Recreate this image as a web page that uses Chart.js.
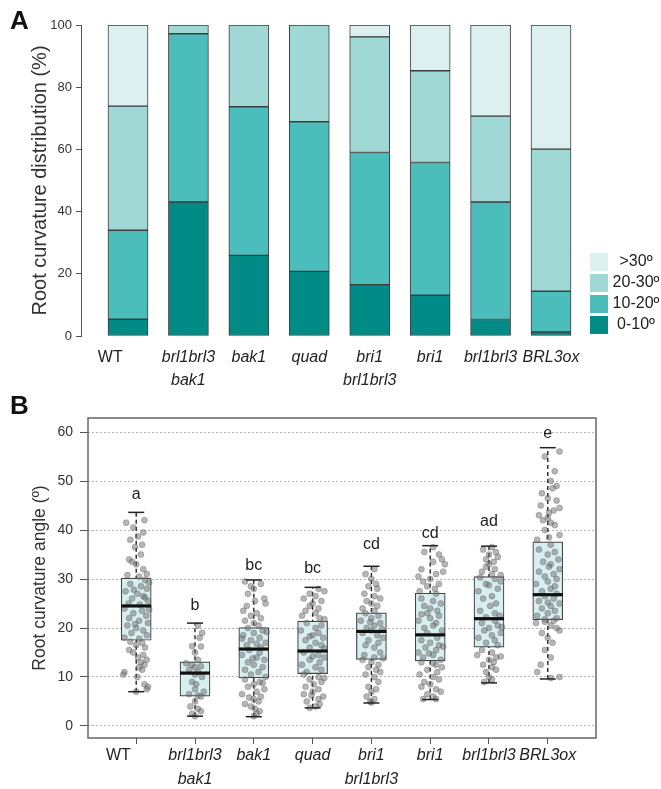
<!DOCTYPE html>
<html>
<head>
<meta charset="utf-8">
<script src="https://cdn.jsdelivr.net/npm/chart.js@4"></script>
<style>
  body { margin: 0; background: #fff; width: 661px; height: 789px; position: relative; overflow: hidden; }
  canvas { position: absolute; left: 0; }
  .tag { position: absolute; left: 10px; font: bold 26px/26px 'Liberation Sans', Arial, sans-serif; color: #111; z-index: 2; }
</style>
</head>
<body>
<canvas id="chartDist" width="661" height="395" style="top:0"></canvas>
<canvas id="chartAngle" width="661" height="394" style="top:395px"></canvas>
<div class="tag" style="top:7px">A</div>
<div class="tag" style="top:392px">B</div>
<script>
// genotypes (multi-line tick labels); WT sits a little left of its bar in the original
const genotypes = [['WT        '], ['brl1brl3', 'bak1'], ['bak1'], ['quad'], ['bri1', 'brl1brl3'], ['bri1'], ['brl1brl3'], ['BRL3ox']];

// --- A: root curvature distribution (%) ---
const bins = ['0-10º', '10-20º', '20-30º', '>30º'];
const pct0to10  = [5.4, 43.1, 25.9, 20.8, 16.5, 13.1, 5.3, 1.3];
const pct10to20 = [28.6, 54.1, 47.8, 48.1, 42.5, 42.7, 37.8, 13.1];
const pct20to30 = [39.9, 2.8, 26.3, 31.1, 37.2, 29.5, 27.6, 45.7];
const pctOver30 = [26.1, 0, 0, 0, 3.8, 14.7, 29.3, 39.9];
const binColors = ['#008b87', '#4bbdbb', '#9fd8d5', '#dcf0ef'];

// --- B: root curvature angle (º), box stats ---
const whiskLow  = [7.0, 2.0, 1.9, 3.7, 4.7, 5.4, 8.8, 9.6];
const q1        = [17.5, 6.1, 9.8, 10.7, 13.6, 13.3, 16.1, 21.7];
const median    = [24.5, 10.8, 15.7, 15.3, 19.3, 18.6, 21.9, 26.8];
const q3        = [30.2, 13.1, 20.1, 21.4, 23.1, 27.1, 30.5, 37.6];
const whiskHigh = [43.6, 21.0, 29.8, 28.3, 32.6, 36.8, 36.7, 56.8];
const sigLetters = ['a', 'b', 'bc', 'bc', 'cd', 'cd', 'ad', 'e'];
const letterY    = [47.3, 24.5, 32.7, 32.1, 37.0, 39.2, 41.8, 59.7];

// individual roots: [jitter, angle]
const ptsWT = [[-0.17,41.5],[0.14,42],[-0.05,40.5],[0.12,39.5],[0.03,38.7],[-0.1,38],[0.1,37],[-0.02,36.5],[0.08,35],[-0.12,34],[-0.07,33.5],[0,33],[0.12,32],[0.18,31],[-0.15,30.8],[0.05,30.5],
  [0.15,29.8],[-0.1,29],[0.22,29.3],[0.08,28.5],[0.18,28],[-0.04,27.8],[-0.18,27.5],[0.02,27],[0.12,26.5],[0.15,26.2],[-0.07,26],[0.2,25.5],[-0.13,25],[0.06,24.8],
  [-0.2,24],[0.22,23.8],[0.1,23.5],[-0.05,23],[0.17,22.5],[-0.12,22],[0.05,21.5],[0.2,21],[-0.02,20.8],[-0.15,20.5],[0,20],[0.12,19.5],[-0.08,19],[0.18,18.5],[-0.2,18],[0.05,17.8],
  [-0.1,17.2],[0.1,17],[0,16.5],[0.15,16],[-0.12,15.5],[-0.05,15],[0.12,14.5],[0.03,14],[0.18,13.5],[0.08,13],[0.14,12.5],[0.05,12],[0.1,11.5],[-0.2,11],[-0.22,10.5],[0.02,10],[0.14,8.5],[0.2,8],[0.18,7.5],[0,7]];
const ptsBrl1brl3bak1 = [[0.05,20.5],[0.12,19],[0.08,18],[-0.05,16.3],[0.1,16.2],[0,15],[0.05,13.5],[-0.15,12.8],[-0.05,12.5],[0.1,12.2],[0,12],[-0.1,11.5],[0.05,11],[0,10.5],[0.12,10],
  [-0.05,9],[0.02,8.5],[0,7.5],[0.15,7],[-0.1,6.5],[0.05,6.2],[0.1,6],[0,5],[-0.08,4],[0.05,3.5],[0.1,3],[-0.05,2.5],[0,2]];
const ptsBak1 = [[-0.15,29.5],[0.12,29],[-0.05,28.5],[0,28],[-0.1,27],[0.18,26],[0.02,25.5],[0.2,25],[-0.12,24.5],[-0.18,23.5],[0.05,23],[-0.05,22.5],[0.12,22],[-0.15,21.5],[0,21],[0.08,20.5],
  [-0.1,20],[0.15,19.5],[0.22,19.2],[0,19],[-0.18,18.5],[0.1,18],[-0.2,17.8],[-0.05,17.5],[0.2,17],[0.05,16.8],[-0.12,16.5],[0.12,16],
  [-0.08,15.5],[0.1,15],[-0.2,14.5],[0.05,14],[-0.02,13.8],[0.18,13.5],[-0.1,13],[0,12.5],[0.15,12],[-0.15,11.5],[0.08,11],[-0.05,10.5],[0.2,10],
  [-0.15,9.5],[0.1,9],[0.15,8.8],[0,8.5],[-0.1,8],[0.18,7.5],[0.05,7],[-0.2,6.5],[0.12,6],[-0.08,5.8],[0,5.5],[0.08,5],[-0.15,4.5],[-0.05,4],[0.02,3.5],[0.1,3],[0.05,2.5],[0,2]];
const ptsQuad = [[0.1,28],[0.2,27.5],[-0.05,27],[0.05,26.5],[-0.15,26],[0.15,25.5],[0,25],[-0.05,24.5],[0.1,24],[-0.12,23.5],[0.05,23],[-0.18,22.5],[0.12,22],[0.2,21.8],
  [-0.1,21],[0.15,20.5],[0.05,20],[-0.2,19.5],[0.1,19],[0,18.5],[-0.05,18.3],[0.18,18],[-0.12,17.5],[0.05,17],[0.15,16.5],[-0.05,16],[0.2,15.8],
  [-0.15,15],[0.1,14.5],[0,14.2],[0.2,14],[-0.05,13.5],[0.12,13],[-0.18,12.5],[0.05,12],[0.15,11.5],[-0.1,11],
  [-0.15,10.5],[0.1,10],[0.2,9.8],[-0.05,9.5],[0.15,9],[0.02,8.5],[-0.12,8],[0.1,7.5],[0,7],[-0.15,6.5],[-0.02,6.2],[0.18,6],[0.1,5.5],[-0.1,5],[0.12,4.5],[0.05,4],[-0.05,3.7]];
const ptsBri1brl1brl3 = [[0.05,32],[-0.1,31],[0,30],[0.08,29],[-0.05,28.5],[0.1,28],[-0.12,27],[0.05,26.5],[0.15,26],[-0.08,25.5],[0,25],[0.1,24.5],[-0.15,24],[0.05,23.5],
  [-0.1,23],[0.12,22.5],[0,22],[-0.18,21.5],[-0.02,21.2],[0.15,21],[0.05,20.5],[-0.08,20],[0.18,19.8],[0,19.5],
  [-0.15,19],[0.1,18.5],[0.2,18],[-0.05,17.5],[0.12,17],[-0.1,16.5],[0.05,16],[0.15,15],[-0.12,14.5],[0.05,14],[0.2,13.8],
  [-0.15,13.5],[0,13],[0.12,12.5],[-0.05,12],[0.08,11.5],[0.15,11],[-0.1,10.5],[0.05,10],[0.12,9],[-0.05,8],[0.08,7.5],[0,7],[-0.08,6],[0.05,5.5],[-0.02,5],[0,4.8]];
const ptsBri1 = [[0.05,36.5],[-0.1,35.5],[0.15,35],[0.2,34],[0.05,33.5],[0.25,33],[-0.15,32],[0.22,31.5],[0.1,31],[-0.2,30.5],[0,30],[-0.12,29.5],[0.15,29],[-0.05,28.5],[0.08,28],[-0.18,27.5],
  [0.1,27],[-0.15,26],[0.05,25.5],[0.18,25],[-0.1,24.5],[0,24],[0.12,23.5],[-0.05,23],[-0.15,22.8],[0.15,22.5],[0,22],[-0.2,21.5],[0.1,21],[0.05,20.5],[-0.1,20],[0.2,19.5],[-0.05,19],
  [0.12,18],[-0.15,17.5],[0,17],[0.15,16.5],[0.22,16.2],[-0.08,16],[0.1,15.5],[-0.2,15],[-0.02,14.8],[0.05,14.5],[-0.12,14],[0.18,13.5],
  [-0.15,13],[0.05,12.8],[0.1,12.5],[0.2,12],[-0.05,11.5],[0.12,11],[-0.18,10.5],[0.05,10],[0.15,9.5],[-0.1,9],[0,8.5],[-0.15,8],[0.1,7.5],[0.18,7],[-0.05,6.5],[0.05,6],[0.1,5.5],[-0.12,5.5]];
const ptsBrl1brl3 = [[0.05,36.5],[-0.1,36],[0.12,35.5],[0,35],[0.15,34.5],[-0.05,34],[0.08,33.5],[0,33],[-0.05,32.5],[0.1,32],[-0.12,31.5],[0.05,31],[0.2,30.8],
  [-0.15,30.3],[0.1,30],[0.2,29.5],[-0.05,29],[0,28.7],[0.15,28],[-0.18,27.5],[0.05,26.5],[-0.1,26],[0.12,25],[0.02,24.5],[-0.15,23.5],[0.1,23],[0.18,22.5],[-0.05,22.2],
  [0.1,21.5],[-0.12,21],[0.15,20.5],[0.22,20.2],[0,20],[-0.08,19.5],[0.2,19],[0.05,18.5],[-0.18,18],[0.1,17.5],[-0.05,17],[0.15,16.5],
  [-0.12,15.5],[0.05,15],[-0.2,14.5],[0.2,14.2],[0.12,14],[0,13.5],[0.08,13],[-0.1,12.5],[0.05,12],[0.12,11.5],[-0.05,11],[0,10],[0.05,9.5],[-0.08,9]];
const ptsBRL3ox = [[0.2,56],[-0.05,55],[0.12,52],[0.05,50],[0.15,49],[0.08,48.5],[-0.1,47.5],[0,46.5],[0.15,46],[-0.12,45],[0.2,44.5],[0.1,44],[0.02,43.5],[-0.15,43],[0,42.5],[-0.08,42],[0.05,41.5],[0.12,41],[-0.05,40],[0.2,39],[0.02,38.5],[-0.18,38],
  [0.05,37],[-0.15,36],[0.12,35.5],[0,35],[0.18,34],[-0.08,33.5],[0.05,33],[0.02,32.5],[0.2,32],[-0.15,31.5],[0.1,31],[-0.05,30.5],[0.15,30],[0,29.5],[-0.2,29],[0.12,28.5],[0.05,28],[-0.1,27.5],[0.15,27],
  [-0.05,26.5],[0.1,26],[-0.15,25.5],[0,25.2],[0.2,25],[0.05,24.5],[-0.1,24],[0.12,23.5],[0,23],[-0.18,22.5],[0.15,22],[-0.05,21.8],
  [0.1,21.5],[-0.05,21.3],[-0.2,21],[0.05,20.5],[0.15,20],[0.2,19.5],[-0.1,19],[0,18],[0.08,17],[-0.05,15.5],[0.05,14],[-0.12,12.5],[-0.18,11],[0.2,10],[0.05,9.8]];
const rootPoints = [ptsWT, ptsBrl1brl3bak1, ptsBak1, ptsQuad, ptsBri1brl1brl3, ptsBri1, ptsBrl1brl3, ptsBRL3ox];

const FONT = "'Liberation Sans', Arial, sans-serif";
Chart.defaults.font.family = FONT;
Chart.defaults.color = '#222';
Chart.defaults.animation = false;

const tickIdx = s => { s.ticks = genotypes.map((_, i) => ({ value: i + 1 })); };
const genoFont = (size, lh) => ctx => ({ size: size, lineHeight: lh, style: ctx.index === 0 ? 'normal' : 'italic' });

// legend for panel A, top bin first
const binLegend = {
  id: 'binLegend',
  afterDraw(chart) {
    const ctx = chart.ctx;
    ctx.save();
    ctx.font = '16px ' + FONT;
    ctx.textAlign = 'center';
    ctx.textBaseline = 'middle';
    chart.data.datasets.slice().reverse().forEach((ds, i) => {
      const y = 253 + i * 21;
      ctx.fillStyle = ds.backgroundColor;
      ctx.fillRect(590, y, 18, 18);
      ctx.fillStyle = '#222';
      ctx.fillText(ds.label, 636, y + 9);
    });
    ctx.restore();
  }
};

const binSeries = [pct0to10, pct10to20, pct20to30, pctOver30];
new Chart(document.getElementById('chartDist'), {
  type: 'bar',
  data: {
    datasets: binSeries.map((vals, b) => ({
      label: bins[b],
      data: vals.map((v, i) => ({ x: i + 1, y: v })),
      backgroundColor: binColors[b],
      borderColor: '#3d3d3d',
      borderWidth: 1,
      borderSkipped: false,
      barThickness: 40
    }))
  },
  options: {
    responsive: false,
    events: [],
    layout: { padding: { left: 0, top: 25, right: 76, bottom: 0 } },
    plugins: { legend: { display: false }, tooltip: { enabled: false } },
    scales: {
      x: {
        type: 'linear', stacked: true, offset: false, min: 0.2223, max: 8.5626,
        afterBuildTicks: tickIdx,
        afterFit: s => { s.height = 59; },
        grid: { display: false, drawTicks: false, offset: false },
        border: { display: false },
        ticks: { autoSkip: false, maxRotation: 0, padding: 10, color: '#222',
          font: genoFont(16, 1.45), callback: v => genotypes[v - 1] }
      },
      y: {
        stacked: true, min: 0, max: 100,
        afterFit: s => { s.width = 81; },
        grid: { drawOnChartArea: false, tickLength: 5, color: '#555' },
        border: { color: '#555' },
        ticks: { stepSize: 20, padding: 4, color: '#333', font: { size: 13 } },
        title: { display: true, text: 'Root curvature distribution (%)', color: '#333',
          font: { size: 20 }, padding: { top: 28, bottom: 0 } }
      }
    }
  },
  plugins: [binLegend]
});

// frame around panel B plot region + significance letters
const frameAndLetters = {
  id: 'frameAndLetters',
  afterDatasetsDraw(chart) {
    const { ctx, chartArea: a, scales: { x, y } } = chart;
    ctx.save();
    ctx.strokeStyle = '#666';
    ctx.lineWidth = 1.5;
    ctx.strokeRect(a.left, a.top, a.right - a.left, a.bottom - a.top);
    ctx.font = '16px ' + FONT;
    ctx.fillStyle = '#222';
    ctx.textAlign = 'center';
    ctx.textBaseline = 'middle';
    sigLetters.forEach((t, i) => ctx.fillText(t, x.getPixelForValue(i + 1), y.getPixelForValue(letterY[i])));
    ctx.restore();
  }
};

const whiskerData = [];
whiskLow.forEach((lo, i) => {
  whiskerData.push({ x: i + 1, y: lo }, { x: i + 1, y: whiskHigh[i] }, { x: i + 1, y: null });
});
const capData = whiskLow.map((v, i) => ({ x: i + 1, y: v })).concat(whiskHigh.map((v, i) => ({ x: i + 1, y: v })));
const pointData = [];
rootPoints.forEach((grp, i) => grp.forEach(p => pointData.push({ x: i + 1 + p[0], y: p[1] })));

new Chart(document.getElementById('chartAngle'), {
  type: 'scatter',
  data: {
    datasets: [
      { type: 'line', data: whiskerData, borderColor: '#222', borderWidth: 1.4, borderDash: [4, 3],
        pointRadius: 0, spanGaps: false, order: 5 },
      { type: 'bar', data: q1.map((v, i) => ({ x: i + 1, y: [v, q3[i]] })), backgroundColor: '#d7eff0',
        borderColor: '#444', borderWidth: 1.2, borderSkipped: false, barThickness: 30, order: 4 },
      { data: pointData, pointRadius: 3, backgroundColor: 'rgba(110,110,110,0.5)',
        borderColor: 'rgba(80,80,80,0.5)', borderWidth: 0.6, order: 3 },
      { data: capData, pointStyle: 'line', pointRadius: 8, borderColor: '#222', borderWidth: 1.5, order: 2 },
      { data: median.map((v, i) => ({ x: i + 1, y: v })), pointStyle: 'line', pointRadius: 15,
        borderColor: '#111', borderWidth: 3.2, order: 1 }
    ]
  },
  options: {
    responsive: false,
    events: [],
    layout: { padding: { left: 0, top: 23, right: 65, bottom: 0 } },
    plugins: { legend: { display: false }, tooltip: { enabled: false } },
    scales: {
      x: {
        type: 'linear', offset: false, min: 0.18, max: 8.82,
        afterBuildTicks: tickIdx,
        afterFit: s => { s.height = 51; },
        grid: { drawOnChartArea: false, offset: false, tickLength: 6, color: '#555' },
        border: { display: false },
        ticks: { autoSkip: false, maxRotation: 0, padding: 0, color: '#222',
          font: genoFont(16, 1.5), callback: v => genotypes[v - 1] }
      },
      y: {
        min: -2.45, max: 62.86,
        afterBuildTicks: s => { s.ticks = [0, 10, 20, 30, 40, 50, 60].map(v => ({ value: v })); },
        afterFit: s => { s.width = 88; },
        grid: { color: '#b5b5b5', lineWidth: 1, tickLength: 8, tickColor: '#555' },
        border: { display: false, dash: [2, 2] },
        ticks: { padding: 7, color: '#333', font: { size: 14 } },
        title: { display: true, text: 'Root curvature angle (º)', color: '#333',
          font: { size: 17.5 }, padding: { top: 30, bottom: 0 } }
      }
    }
  },
  plugins: [frameAndLetters]
});
</script>
</body>
</html>
